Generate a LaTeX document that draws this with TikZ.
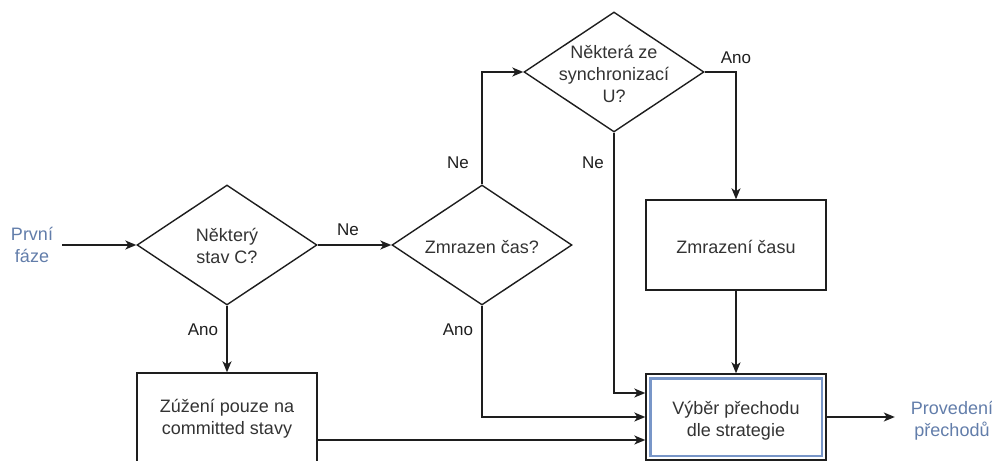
\documentclass[tikz,border=0pt]{standalone}
\usepackage{fontspec}
\setmainfont{Liberation Sans}
\usetikzlibrary{shapes.geometric,arrows.meta,positioning}

\definecolor{ink}{RGB}{30,30,30}
\definecolor{txtgray}{RGB}{51,51,51}
\definecolor{phase}{RGB}{98,125,170}
\definecolor{hilite}{RGB}{120,150,200}

\tikzset{
  every node/.style={font=\fontsize{18}{21.6}\selectfont, text=txtgray},
  decision/.style={shape=diamond, draw=ink, line width=1.4pt, inner sep=0pt,
    minimum width=180pt, minimum height=120pt},
  procbox/.style={shape=rectangle, draw=ink, line width=1.4pt, inner sep=0pt,
    minimum width=180pt},
  inner/.style={align=center, inner sep=0pt},
  phasetxt/.style={align=center, text=phase, inner sep=0pt},
  flow/.style={draw=ink, line width=1.4pt, -{Stealth[length=11pt,width=9pt,inset=3pt]}},
  branch/.style={font=\fontsize{17}{20}\selectfont, text=ink, inner sep=0pt},
}

\begin{document}
\begin{tikzpicture}[x=1pt,y=-1pt]
  \path[use as bounding box] (0,0) rectangle (992,460);
  \clip (0,0) rectangle (992,460);

  % entry and exit labels
  \node[phasetxt, minimum width=60pt] (start) at (32,245) {První\\fáze};
  \node[phasetxt, minimum width=114pt] (finish) at (952,421) {Provedení\\přechodů};

  % decisions
  \node[decision] (d1) at (227,245) {};
  \node[inner] at (227,246) {Některý\\stav C?};
  \node[decision] (d2) at (482,245) {};
  \node[inner] at (482,247) {Zmrazen čas?};
  \node[decision] (d3) at (614,72) {};
  \node[inner] at (614,74) {Některá ze\\synchronizací\\U?};

  % processes
  \node[procbox, minimum height=90pt] (zuz) at (227,418) {};
  \node[inner] at (227,419) {Zúžení pouze na\\committed stavy};
  \node[procbox, minimum height=90pt] (zmr) at (736,245) {};
  \node[inner] at (736,247) {Zmrazení času};
  \node[procbox, minimum height=86pt] (vyb) at (736,417) {};
  \draw[hilite, line width=2.4pt] ([xshift=5pt,yshift=-5pt]vyb.north west)
    rectangle ([xshift=-5pt,yshift=5pt]vyb.south east);
  \node[inner] at (736,421) {Výběr přechodu\\dle strategie};

  % connectors
  \draw[flow] (start.east) -- (d1.west);
  \draw[flow] (d1.east) -- (d2.west);
  \node[branch] at (348,230) {Ne};
  \draw[flow] (d1.south) -- (zuz.north);
  \node[branch] at (203,330) {Ano};
  \draw[flow] (d2.north) |- (d3.west);
  \node[branch] at (458,163) {Ne};
  \draw[flow] (d3.east) -| (zmr.north);
  \node[branch] at (736,58) {Ano};
  \draw[flow] (d3.south) |- ([yshift=24pt]vyb.west);
  \node[branch] at (593,163) {Ne};
  \draw[flow] (d2.south) |- (vyb.west);
  \node[branch] at (458,330) {Ano};
  \draw[flow] ([yshift=-22pt]zuz.east) -- ([yshift=-23pt]vyb.west);
  \draw[flow] (zmr.south) -- (vyb.north);
  \draw[flow] (vyb.east) -- (vyb.east -| finish.west);
\end{tikzpicture}
\end{document}
